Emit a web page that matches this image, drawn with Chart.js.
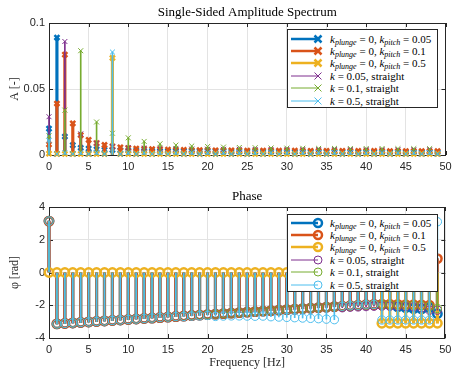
<!DOCTYPE html>
<html>
<head>
<meta charset="utf-8">
<script src="https://cdn.jsdelivr.net/npm/chart.js@4.4.0/dist/chart.umd.min.js"></script>
<style>
  body { margin: 0; background: #fff; }
  #wrap { position: relative; width: 452px; height: 377px; overflow: hidden; }
  #wrap canvas { position: absolute; left: 0; }
  .legend { position: absolute; left: 287px; width: 151px; background: #fff; border: 1px solid #262626;
            box-sizing: border-box; font-family: "Liberation Serif", serif; font-size: 11px; color: #000; }
  .row { position: absolute; left: 0; width: 100%; height: 12px; line-height: 12px; white-space: nowrap; }
  .row svg { position: absolute; left: 1px; top: 0; }
  .row span { position: absolute; left: 42px; top: 0; }
  sub { font-size: 8px; line-height: 0; vertical-align: -2px; }
</style>
</head>
<body>
<div id="wrap">
  <canvas id="ampChart" width="452" height="180" style="top:0"></canvas>
  <canvas id="phaseChart" width="452" height="197" style="top:180px"></canvas>
  <div class="legend" id="ampLegend" style="top:29px;height:79px"></div>
  <div class="legend" id="phaseLegend" style="top:214px;height:78px"></div>
</div>
<script>
const freq = [0,1,2,3,4,5,6,7,8,9,10,11,12,13,14,15,16,17,18,19,20,21,22,23,24,
  25,26,27,28,29,30,31,32,33,34,35,36,37,38,39,40,41,42,43,44,45,46,47,48,49];

const xTicks = [0, 5, 10, 15, 20, 25, 30, 35, 40, 45, 50];
const ampTicks = [0, 0.05, 0.1];
const phaseTicks = [-4, -2, 0, 2, 4];

// amplitude, one value per frequency
const ampPitch005 = [0.020,0.089,0.014,0.0075,0.0055,0.0048,0.0043,0.0040,0.0038,0.0036,
  0.0034,0.0033,0.0032,0.0031,0.0030,0.0030,0.0029,0.0029,0.0028,0.0028,
  0.0027,0.0027,0.0027,0.0026,0.0026,0.0026,0.0025,0.0025,0.0025,0.0025,
  0.0024,0.0024,0.0024,0.0024,0.0023,0.0023,0.0023,0.0023,0.0023,0.0022,
  0.0022,0.0022,0.0022,0.0022,0.0022,0.0021,0.0021,0.0021,0.0021,0.0021];
const ampPitch01 = [0.008,0.039,0.076,0.024,0.015,0.0115,0.0090,0.0076,0.0065,0.0058,
  0.0052,0.0049,0.0046,0.0044,0.0042,0.0041,0.0040,0.0039,0.0038,0.0037,
  0.0037,0.0036,0.0036,0.0035,0.0035,0.0034,0.0034,0.0034,0.0033,0.0033,
  0.0033,0.0033,0.0032,0.0032,0.0032,0.0032,0.0032,0.0031,0.0031,0.0031,
  0.0031,0.0031,0.0031,0.0030,0.0030,0.0030,0.0030,0.0030,0.0030,0.0030];
const ampPitch05 = [0.001,0.0008,0.0008,0.0008,0.0008,0.0008,0.0008,0.0008,0.0735,0.0008,
  0.0008,0.0008,0.0008,0.0008,0.0008,0.0008,0.0008,0.0008,0.0008,0.0008,
  0.0008,0.0008,0.0008,0.0008,0.0008,0.0008,0.0008,0.0008,0.0008,0.0008,
  0.0008,0.0008,0.0008,0.0008,0.0008,0.0008,0.0008,0.0008,0.0008,0.0008,
  0.0008,0.0008,0.0008,0.0008,0.0008,0.0008,0.0008,0.0008,0.0008,0.0008];
const ampStraight005 = [0.029,0.0008,0.086,0.0008,0.016,0.0008,0.009,0.0008,0.0065,0.0008,
  0.0055,0.0008,0.0050,0.0008,0.0048,0.0008,0.0046,0.0008,0.0045,0.0008,
  0.0044,0.0008,0.0043,0.0008,0.0043,0.0008,0.0042,0.0008,0.0042,0.0008,
  0.0042,0.0008,0.0041,0.0008,0.0041,0.0008,0.0041,0.0008,0.0041,0.0008,
  0.0040,0.0008,0.0040,0.0008,0.0040,0.0008,0.0040,0.0008,0.0040,0.0008];
const ampStraight01 = [0.0145,0.0008,0.034,0.0008,0.079,0.0008,0.025,0.0008,0.0165,0.0008,
  0.013,0.0008,0.0103,0.0008,0.0085,0.0008,0.0075,0.0008,0.0068,0.0008,
  0.0064,0.0008,0.0060,0.0008,0.0057,0.0008,0.0055,0.0008,0.0053,0.0008,
  0.0052,0.0008,0.0051,0.0008,0.0050,0.0008,0.0050,0.0008,0.0049,0.0008,
  0.0049,0.0008,0.0049,0.0008,0.0048,0.0008,0.0048,0.0008,0.0048,0.0008];
const ampStraight05 = [0.011,0.0008,0.0018,0.0008,0.0018,0.0008,0.0018,0.0008,0.078,0.0008,
  0.0018,0.0008,0.0018,0.0008,0.0018,0.0008,0.0018,0.0008,0.0018,0.0008,
  0.0018,0.0008,0.0018,0.0008,0.0018,0.0008,0.0018,0.0008,0.0018,0.0008,
  0.0018,0.0008,0.0018,0.0008,0.0018,0.0008,0.0018,0.0008,0.0018,0.0008,
  0.0018,0.0008,0.0018,0.0008,0.0018,0.0008,0.0018,0.0008,0.0018,0.0008];

// phase [rad], one value per frequency
const phPitch005 = [3.14,-3.14,-3.11,-3.08,-3.05,-3.02,-2.99,-2.96,-2.93,-2.90,
  -2.87,-2.84,-2.81,-2.78,-2.75,-2.72,-2.69,-2.66,-2.63,-2.60,
  -2.57,-2.54,-2.51,-2.48,-2.45,-2.42,-2.39,-2.36,-2.33,-2.30,
  -2.27,-2.24,-2.21,-2.18,-2.15,-2.12,-2.09,-2.06,-2.03,-2.00,
  -1.97,-1.95,-1.95,-1.97,-2.10,-2.15,-2.20,-2.22,-2.15,-2.52];
const phPitch01 = [3.14,-3.14,-3.11,-3.08,-3.05,-3.02,-2.99,-2.96,-2.93,-2.90,
  -2.87,-2.84,-2.81,-2.78,-2.75,-2.72,-2.69,-2.66,-2.63,-2.60,
  -2.57,-2.54,-2.51,-2.48,-2.45,-2.42,-2.39,-2.36,-2.33,-2.30,
  -2.27,-2.24,-2.21,-2.18,-2.15,-2.12,-2.09,-2.06,-2.03,-2.00,
  -1.97,-1.95,-1.94,-1.94,-1.95,-1.96,-1.97,-1.98,-2.00,0.85];
const phPitch05 = [0,0,0,0,0,0,0,0,0,0,
  0,0,0,0,0,0,0,0,0,0,
  0,0,0,0,0,0,0,0,0,0,
  0,0,0,0,0,0,0,0,0,0,
  0,0,-3.1,-3.1,-3.1,-3.1,-3.1,-3.1,-3.1,-3.1];
const phStraight005 = [3.14,-3.14,-3.11,-3.08,-3.05,-3.02,-2.99,-2.96,-2.93,-2.90,
  -2.87,-2.84,-2.81,-2.78,-2.75,-2.72,-2.69,-2.66,-2.63,-2.60,
  -2.57,-2.54,-2.51,-2.48,-2.45,-2.42,-2.39,-2.36,-2.33,-2.30,
  -2.27,-2.24,-2.21,-2.18,-2.15,-2.12,-2.09,-2.15,-2.12,-2.10,
  -2.08,-2.06,-2.05,-2.06,-2.07,-2.08,-2.10,-2.15,-2.30,-2.30];
const phStraight01 = [3.14,-3.14,-3.11,-3.08,-3.05,-3.02,-2.99,-2.96,-2.93,-2.90,
  -2.87,-2.84,-2.81,-2.78,-2.75,-2.72,-2.69,-2.66,-2.63,-2.60,
  -2.57,-2.54,-2.51,-2.48,-2.45,-2.42,-2.39,-2.36,-2.33,-2.30,
  -2.27,-2.24,-2.21,-2.18,-2.15,-2.12,-2.09,-2.06,-2.03,-2.00,
  -1.97,-1.95,-1.95,-1.96,-1.97,-1.98,-2.00,-2.02,-2.05,-2.20];
const phStraight05 = [3.14,-3.14,-3.11,-3.08,-3.05,-3.02,-2.99,-2.96,-2.93,-2.90,
  -2.87,-2.84,-2.81,-2.78,-2.75,-2.72,-2.69,-2.68,-2.66,-2.64,
  -2.62,-2.68,-2.66,-2.65,-2.65,-2.66,-2.67,-2.66,-2.70,-2.72,
  -2.74,-2.76,-2.78,-2.80,-2.82,-2.85,-2.88,-2.06,-2.03,-2.00,
  -1.97,-1.95,-2.90,-2.90,-2.90,-2.90,-2.90,-2.90,-2.90,3.10];

const colors = ['#0072BD', '#D95319', '#EDB120', '#7E2F8E', '#77AC30', '#4DBEEE'];
const widths = [2.5, 2.5, 2.5, 1, 1, 1];
const legendLabels = [
  '<i>k</i><sub><i>plunge</i></sub> = 0, <i>k</i><sub><i>pitch</i></sub> = 0.05',
  '<i>k</i><sub><i>plunge</i></sub> = 0, <i>k</i><sub><i>pitch</i></sub> = 0.1',
  '<i>k</i><sub><i>plunge</i></sub> = 0, <i>k</i><sub><i>pitch</i></sub> = 0.5',
  '<i>k</i> = 0.05, straight',
  '<i>k</i> = 0.1, straight',
  '<i>k</i> = 0.5, straight'
];

const axisColor = '#262626';
const tickFont = { family: 'Liberation Sans, Arial, sans-serif', size: 11 };
const serifFont = 'Liberation Serif, Times New Roman, serif';

function stemDatasets(series, marker, radius) {
  const out = [];
  series.forEach((vals, i) => {
    const pts = freq.map((f, j) => ({ x: f, y: vals[j] }));
    out.push({
      type: 'bar', data: pts, backgroundColor: colors[i], borderWidth: 0,
      barThickness: widths[i], grouped: false, order: (6 - i) * 2, clip: false
    });
    out.push({
      type: 'scatter', data: pts, pointStyle: marker, pointRadius: radius,
      pointBorderColor: colors[i], pointBackgroundColor: 'rgba(0,0,0,0)',
      pointBorderWidth: widths[i], showLine: false, order: (6 - i) * 2 - 1, clip: false
    });
  });
  return out;
}

// MATLAB style box with inward ticks
const boxPlugin = {
  id: 'box',
  beforeDatasetsDraw(chart) {
    const { ctx, chartArea: a, scales } = chart;
    ctx.save();
    ctx.strokeStyle = axisColor;
    ctx.lineWidth = 1;
    ctx.strokeRect(Math.round(a.left) + 0.5, Math.round(a.top) + 0.5,
      Math.round(a.right - a.left) - 1, Math.round(a.bottom - a.top));
    ctx.beginPath();
    scales.x.ticks.forEach(t => {
      const px = Math.round(scales.x.getPixelForValue(t.value)) + 0.5;
      ctx.moveTo(px, a.bottom); ctx.lineTo(px, a.bottom - 4);
      ctx.moveTo(px, a.top); ctx.lineTo(px, a.top + 4);
    });
    scales.y.ticks.forEach(t => {
      const py = Math.round(scales.y.getPixelForValue(t.value)) + 0.5;
      ctx.moveTo(a.left, py); ctx.lineTo(a.left + 4, py);
      ctx.moveTo(a.right, py); ctx.lineTo(a.right - 4, py);
    });
    ctx.stroke();
    ctx.restore();
  }
};

function makeChart(id, series, marker, radius, yTicks, yTitle, title, opts) {
  return new Chart(document.getElementById(id), {
    type: 'bar',
    data: { datasets: stemDatasets(series, marker, radius) },
    options: {
      responsive: false,
      animation: false,
      events: [],
      layout: { padding: { left: 0, right: 5, top: 0, bottom: 0 } },
      plugins: {
        legend: { display: false },
        tooltip: { enabled: false },
        title: {
          display: true, text: title, color: '#000', fullSize: false,
          font: { family: serifFont, size: 13, weight: 'normal', lineHeight: 1.2 },
          padding: { top: opts.titleTop, bottom: opts.titleBottom }
        }
      },
      scales: {
        x: {
          type: 'linear', min: xTicks[0], max: xTicks[xTicks.length - 1], offset: false,
          grid: { offset: false, color: '#e3e3e3', drawTicks: false },
          border: { display: false },
          afterBuildTicks: s => { s.ticks = xTicks.map(v => ({ value: v })); },
          ticks: { color: axisColor, font: tickFont, padding: 5, maxRotation: 0, autoSkip: false,
                   callback: v => String(v) },
          title: {
            display: !!opts.xTitle, text: opts.xTitle || '', color: axisColor,
            font: { family: serifFont, size: 12 }, padding: { top: 0, bottom: 7 }
          },
          afterFit: s => { s.height = opts.xHeight; s.paddingLeft = 0; s.paddingRight = 0; }
        },
        y: {
          type: 'linear', min: yTicks[0], max: yTicks[yTicks.length - 1],
          grid: { color: '#e3e3e3', drawTicks: false },
          border: { display: false },
          afterBuildTicks: s => { s.ticks = yTicks.map(v => ({ value: v })); },
          ticks: { color: axisColor, font: tickFont, padding: 4, callback: v => String(v) },
          title: {
            display: true, text: yTitle, color: axisColor,
            font: { family: serifFont, size: 12 }, padding: { top: 8, bottom: 0 }
          },
          afterFit: s => { s.width = 49; s.paddingTop = 0; s.paddingBottom = 0; }
        }
      }
    },
    plugins: [boxPlugin]
  });
}

makeChart('ampChart',
  [ampPitch005, ampPitch01, ampPitch05, ampStraight005, ampStraight01, ampStraight05],
  'crossRot', 3.5, ampTicks, 'A [-]', 'Single-Sided Amplitude Spectrum',
  { titleTop: 5, titleBottom: 2.4, xHeight: 25 });

makeChart('phaseChart',
  [phPitch005, phPitch01, phPitch05, phStraight005, phStraight01, phStraight05],
  'circle', 4.2, phaseTicks, '\u03c6 [rad]', 'Phase',
  { titleTop: 9, titleBottom: 2.4, xHeight: 39, xTitle: 'Frequency [Hz]' });

function buildLegend(id, marker, top0) {
  const box = document.getElementById(id);
  legendLabels.forEach((label, i) => {
    const row = document.createElement('div');
    row.className = 'row';
    row.style.top = (top0 + i * 12.4) + 'px';
    const lw = widths[i];
    const mark = marker === 'x'
      ? `<path d="M25.5 2.5 L32.5 9.5 M32.5 2.5 L25.5 9.5" stroke="${colors[i]}" stroke-width="${lw}" fill="none"/>`
      : `<circle cx="29" cy="6" r="4" stroke="${colors[i]}" stroke-width="${lw}" fill="none"/>`;
    row.innerHTML = `<svg width="36" height="12"><line x1="2" y1="6" x2="29" y2="6" stroke="${colors[i]}" stroke-width="${lw}"/>${mark}</svg><span>${label}</span>`;
    box.appendChild(row);
  });
}
buildLegend('ampLegend', 'x', 2.5);
buildLegend('phaseLegend', 'o', 1.5);
</script>
</body>
</html>
